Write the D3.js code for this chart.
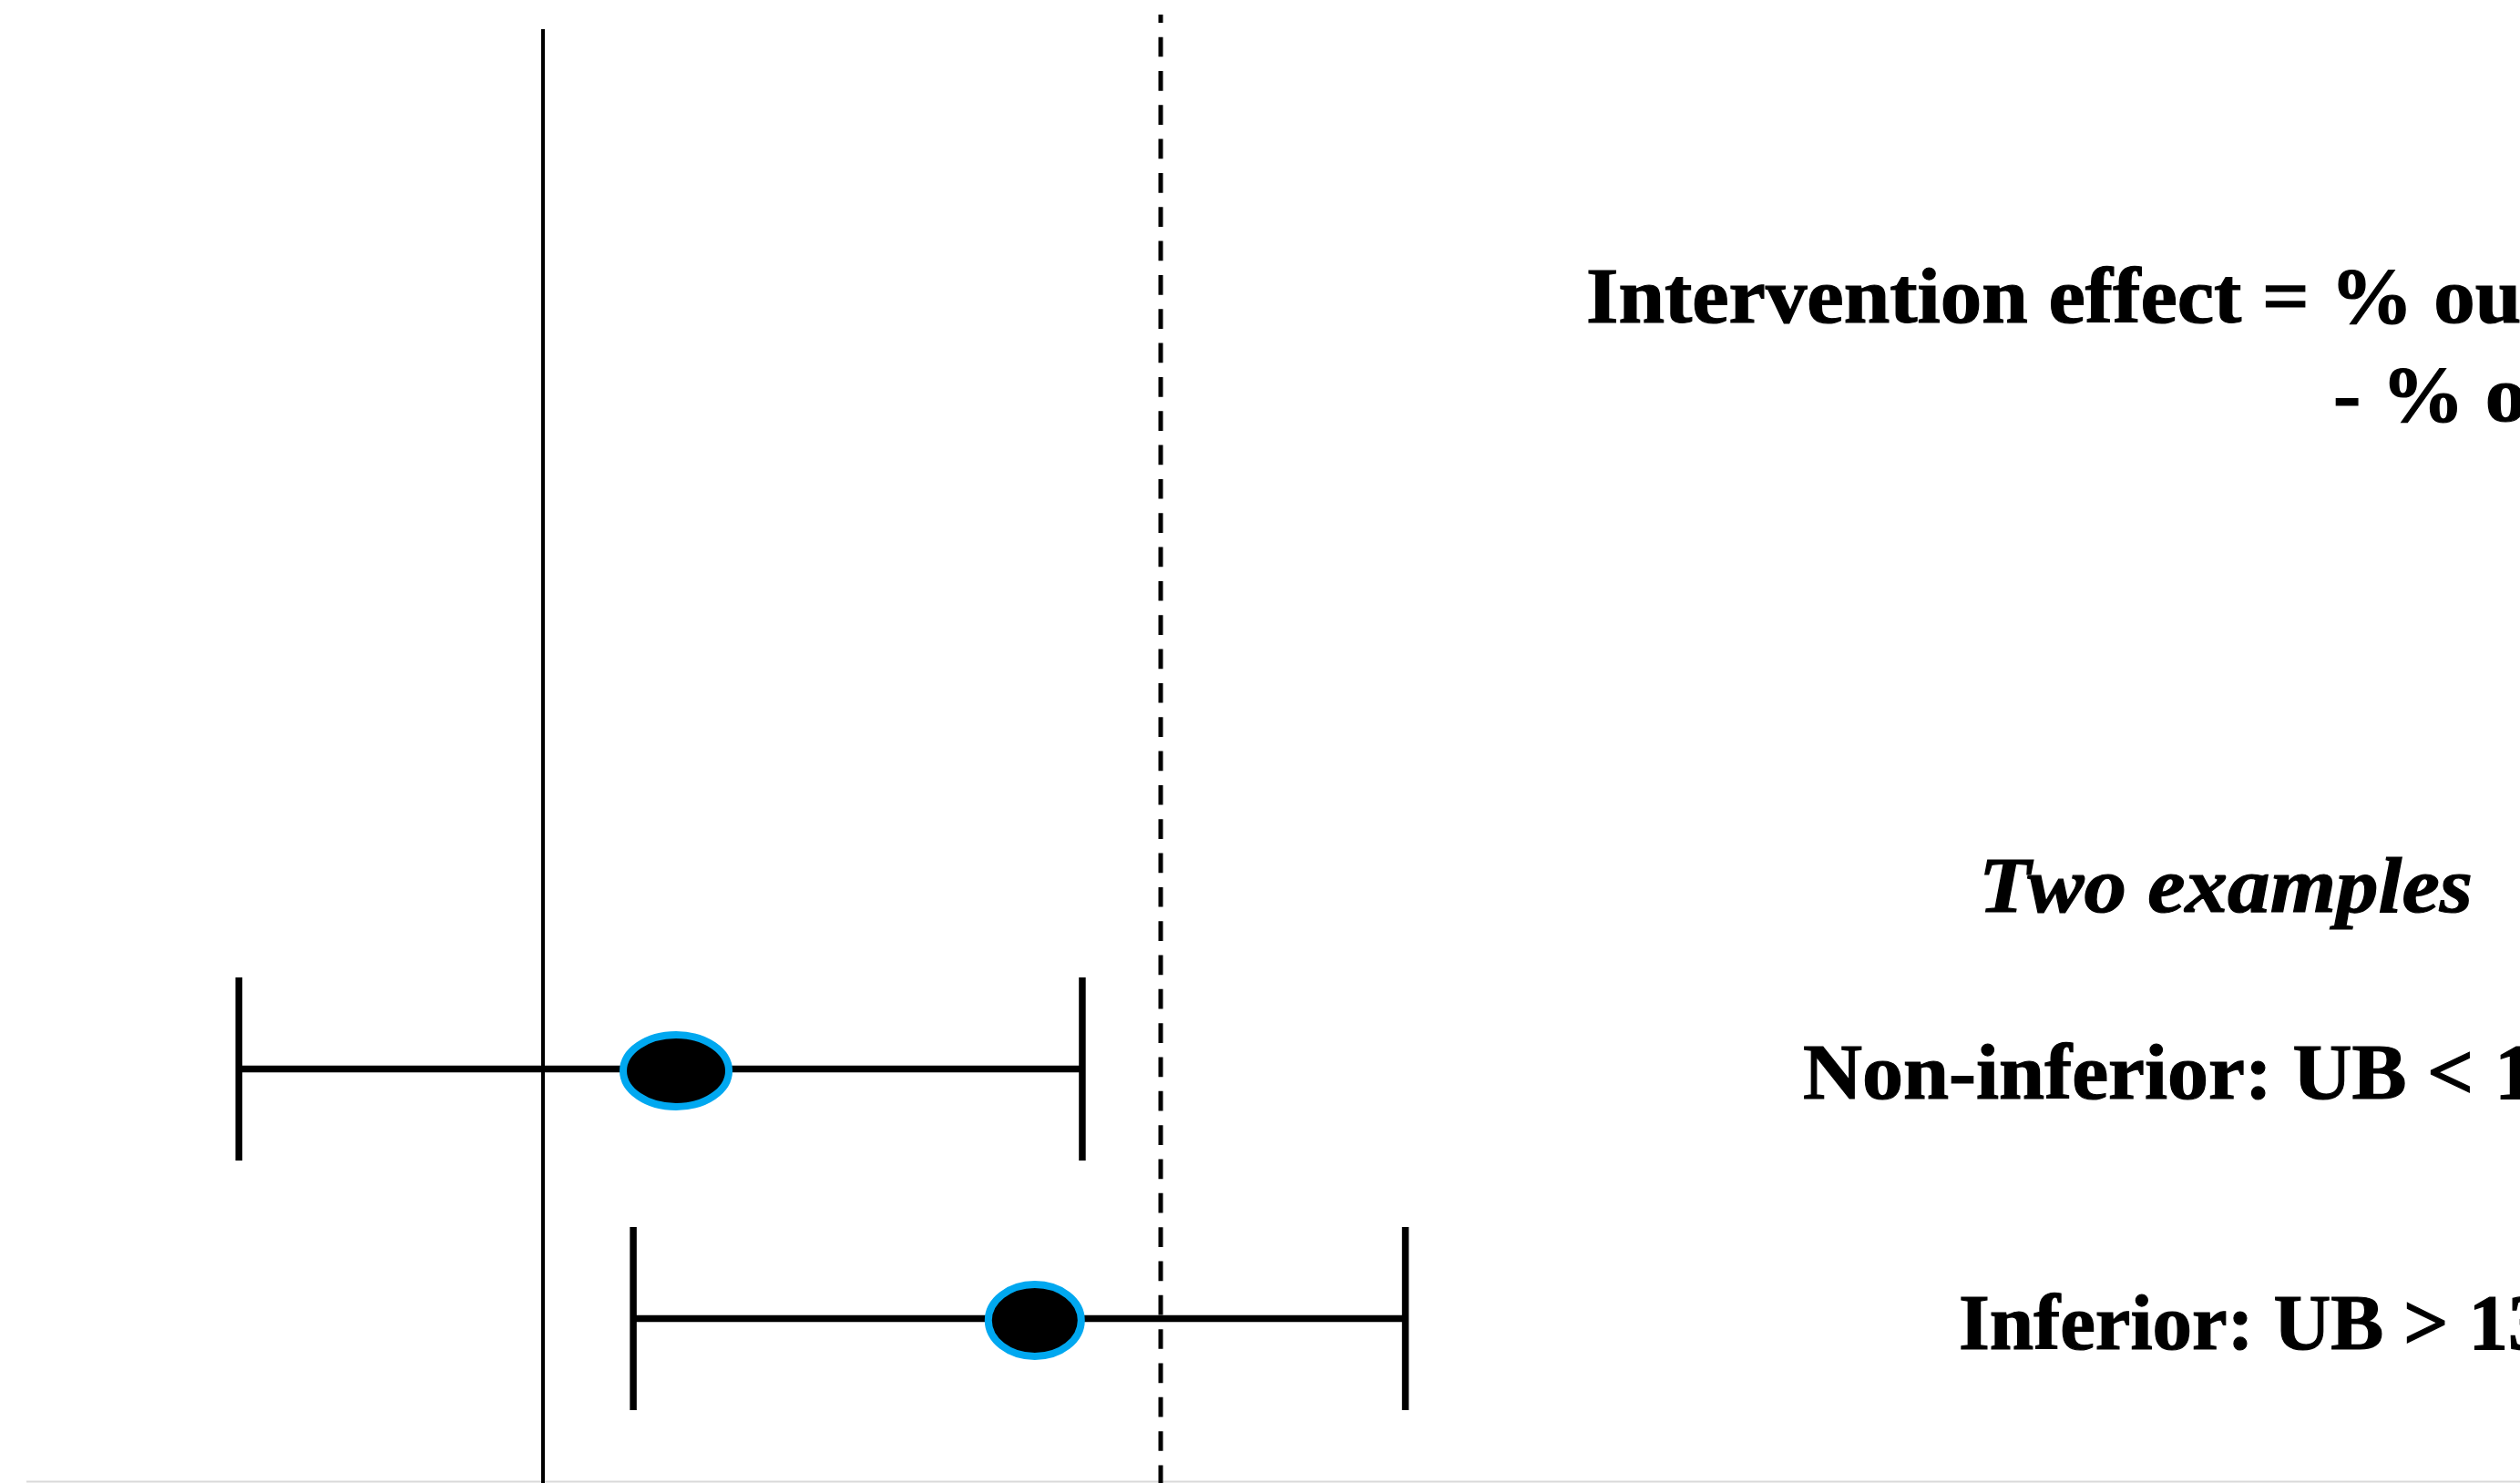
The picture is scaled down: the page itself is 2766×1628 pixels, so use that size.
<!DOCTYPE html>
<html>
<head>
<meta charset="utf-8">
<script src="https://cdn.jsdelivr.net/npm/d3@7"></script>
<style>
  html, body { margin: 0; padding: 0; background: #ffffff; overflow: hidden; }
  svg { display: block; }
  text { font-family: "Liberation Serif", "Times New Roman", serif; font-weight: bold; fill: #000; stroke: #000; stroke-width: 1.2px; }
</style>
</head>
<body>
<svg id="chart" width="2766" height="1628"></svg>
<script>
// ---- data ----
const examples = ["Non-inferior", "Inferior"];
const estimates = [2.8, 10.35];
const lowerCI = [-6.4, 1.9];
const upperCI = [11.35, 18.15];
const nullValue = 0;
const marginValue = 13;
const titleLines = ["Intervention effect = % outcome in intervention", "- % outcome in control"];
const subtitle = "Two examples";
const exampleLabels = ["Non-inferior: UB < 13%", "Inferior: UB > 13%"];

// ---- layout ----
const W = 2766, H = 1628;
const svg = d3.select("#chart");

const x = d3.scaleLinear().domain([nullValue, marginValue]).range([596, 1274]);
const y = d3.scalePoint().domain(examples).range([1173.5, 1447.5]);

const capHalf = 100.5;
const markerRx = [58, 51];
const markerRy = 39.5;

// bottom faint border
svg.append("line")
  .attr("x1", 29).attr("x2", W)
  .attr("y1", 1626.5).attr("y2", 1626.5)
  .attr("stroke", "#d9d9d9").attr("stroke-width", 2);

// null reference line (solid)
svg.append("line")
  .attr("x1", x(nullValue)).attr("x2", x(nullValue))
  .attr("y1", 32).attr("y2", H)
  .attr("stroke", "#000").attr("stroke-width", 4);

// non-inferiority margin (dashed)
svg.append("line")
  .attr("x1", x(marginValue)).attr("x2", x(marginValue))
  .attr("y1", 16).attr("y2", H)
  .attr("stroke", "#000").attr("stroke-width", 5)
  .attr("stroke-dasharray", "21.7 15.63")
  .attr("stroke-dashoffset", 12.7);

// confidence intervals
const rows = examples.map((e, i) => ({ name: e, est: estimates[i], lo: lowerCI[i], hi: upperCI[i], i }));

const g = svg.append("g");
g.selectAll("line.ci").data(rows).join("line")
  .attr("class", "ci")
  .attr("x1", d => x(d.lo)).attr("x2", d => x(d.hi))
  .attr("y1", d => y(d.name)).attr("y2", d => y(d.name))
  .attr("stroke", "#000").attr("stroke-width", 7.5);

g.selectAll("line.capL").data(rows).join("line")
  .attr("class", "capL")
  .attr("x1", d => x(d.lo)).attr("x2", d => x(d.lo))
  .attr("y1", d => y(d.name) - capHalf).attr("y2", d => y(d.name) + capHalf)
  .attr("stroke", "#000").attr("stroke-width", 7.5);

g.selectAll("line.capR").data(rows).join("line")
  .attr("class", "capR")
  .attr("x1", d => x(d.hi)).attr("x2", d => x(d.hi))
  .attr("y1", d => y(d.name) - capHalf).attr("y2", d => y(d.name) + capHalf)
  .attr("stroke", "#000").attr("stroke-width", 7.5);

g.selectAll("ellipse.est").data(rows).join("ellipse")
  .attr("class", "est")
  .attr("cx", d => x(d.est))
  .attr("cy", d => y(d.name) + 2)
  .attr("rx", d => markerRx[d.i])
  .attr("ry", markerRy)
  .attr("fill", "#000")
  .attr("stroke", "#00A8F0")
  .attr("stroke-width", 8);

// ---- texts ----
const fs = 87;
function label(str, tx, ty, sx, italic) {
  const t = svg.append("text")
    .attr("transform", `translate(${tx},${ty}) scale(${sx},1)`)
    .style("font-size", fs + "px")
    .text(str);
  if (italic) t.style("font-style", "italic");
  return t;
}
label(titleLines[0], 1741, 354, 1.045, false);
label(titleLines[1], 2561, 462, 1.045, false);
label(subtitle, 2172, 1001, 1.07, true);
label(exampleLabels[0], 1979, 1206, 1.035, false);
label(exampleLabels[1], 2150, 1481, 1.0, false);
</script>
</body>
</html>
